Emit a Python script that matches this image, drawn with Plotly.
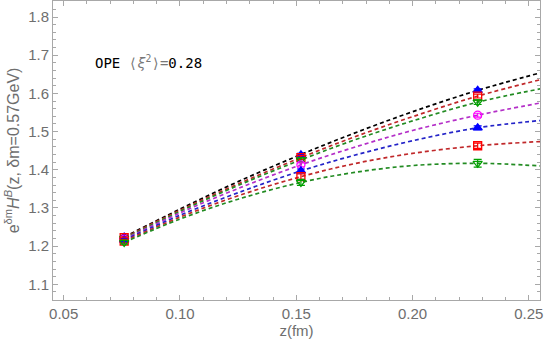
import plotly.graph_objects as go

# lattice points z (fm) and the data at each
z_pts = [0.076, 0.152, 0.228]
data_vals = [
    [1.224, 1.439, 1.608],
    [1.222, 1.432, 1.593],
    [1.220, 1.426, 1.577],
    [1.218, 1.413, 1.543],
    [1.216, 1.397, 1.510],
    [1.213, 1.382, 1.463],
    [1.210, 1.367, 1.417],
]
data_errs = [
    [0.004, 0.004, 0.004],
    [0.004, 0.005, 0.005],
    [0.004, 0.005, 0.006],
    [0.004, 0.005, 0.005],
    [0.004, 0.005, 0.005],
    [0.005, 0.007, 0.007],
    [0.005, 0.008, 0.010],
]

z_curve = [0.076, 0.100, 0.125, 0.152, 0.175, 0.200, 0.228, 0.255]
curve_vals = [
    [1.224, 1.297, 1.369, 1.440, 1.496, 1.552, 1.608, 1.654],
    [1.222, 1.294, 1.363, 1.432, 1.486, 1.539, 1.593, 1.636],
    [1.220, 1.291, 1.359, 1.426, 1.478, 1.528, 1.577, 1.612],
    [1.218, 1.287, 1.351, 1.413, 1.459, 1.503, 1.543, 1.575],
    [1.216, 1.281, 1.340, 1.397, 1.438, 1.476, 1.510, 1.529],
    [1.213, 1.276, 1.332, 1.382, 1.416, 1.443, 1.463, 1.474],
    [1.210, 1.271, 1.323, 1.367, 1.393, 1.411, 1.417, 1.410],
]

line_colors = ['#000000', '#c0282a', '#228b22', '#b42fc8', '#2424c8', '#c0282a', '#228b22']
marker_colors = ['#0000ff', '#ff0000', '#00a000', '#ff00ff', '#0000ff', '#ff0000', '#00a000']
marker_symbols = ['triangle-up', 'square-open', 'triangle-down-open', 'circle-open',
                  'triangle-up', 'square-open', 'triangle-down-open']

fig = go.Figure()

for i in range(len(curve_vals)):
    fig.add_trace(go.Scatter(
        x=z_curve, y=curve_vals[i], mode='lines',
        line=dict(color=line_colors[i], width=1.7, dash='4px,3px', shape='spline'),
        showlegend=False, hoverinfo='skip'
    ))

for i in range(len(data_vals)):
    fig.add_trace(go.Scatter(
        x=z_pts, y=data_vals[i], mode='markers',
        marker=dict(symbol=marker_symbols[i], color=marker_colors[i], size=8,
                    line=dict(color=marker_colors[i], width=1.3)),
        error_y=dict(type='data', array=data_errs[i], color=marker_colors[i],
                     thickness=1.2, width=4),
        showlegend=False
    ))

grey = '#6e6e6e'
frame = '#a8a8a8'

fig.add_annotation(
    x=0.0626, y=1.682, xref='x', yref='y', xanchor='left', yanchor='middle',
    text="OPE <span style='color:#777777'>⟨<i>ξ</i><sup>2</sup>⟩=</span>0.28", showarrow=False,
    font=dict(family='DejaVu Sans Mono', size=14, color='black')
)

fig.update_xaxes(
    range=[0.0454, 0.2548], tickvals=[0.05, 0.10, 0.15, 0.20, 0.25],
    ticktext=['0.05', '0.10', '0.15', '0.20', '0.25'],
    showline=True, linecolor=frame, linewidth=1, mirror='allticks',
    ticks='inside', ticklen=5, tickcolor=frame,
    minor=dict(ticks='inside', ticklen=3, dtick=0.01, tick0=0.05, tickcolor=frame),
    showgrid=False, zeroline=False,
    tickfont=dict(family='Liberation Sans', size=15, color=grey),
    title=dict(text='z(fm)', font=dict(family='Liberation Sans', size=15, color=grey), standoff=4)
)
fig.update_yaxes(
    range=[1.059, 1.842], dtick=0.1, tick0=1.1, tickformat='.1f',
    showline=True, linecolor=frame, linewidth=1, mirror='allticks',
    ticks='inside', ticklen=5, tickcolor=frame,
    minor=dict(ticks='inside', ticklen=3, dtick=0.02, tick0=1.1, tickcolor=frame),
    showgrid=False, zeroline=False,
    tickfont=dict(family='Liberation Sans', size=15, color=grey),
    title=dict(text='e<sup>δm</sup><i>H</i><sup><i>B</i></sup>(z, δm=0.57GeV)',
               font=dict(family='Liberation Sans', size=16, color=grey), standoff=4)
)

fig.update_layout(
    width=548, height=350,
    margin=dict(l=53, r=8, t=1, b=50),
    plot_bgcolor='white', paper_bgcolor='white',
    showlegend=False
)

# drop the browser's default body margin so the figure sits at the page corner
fig.write_html("out.html", config={'displayModeBar': False},
               post_script="document.body.style.margin='0';")
